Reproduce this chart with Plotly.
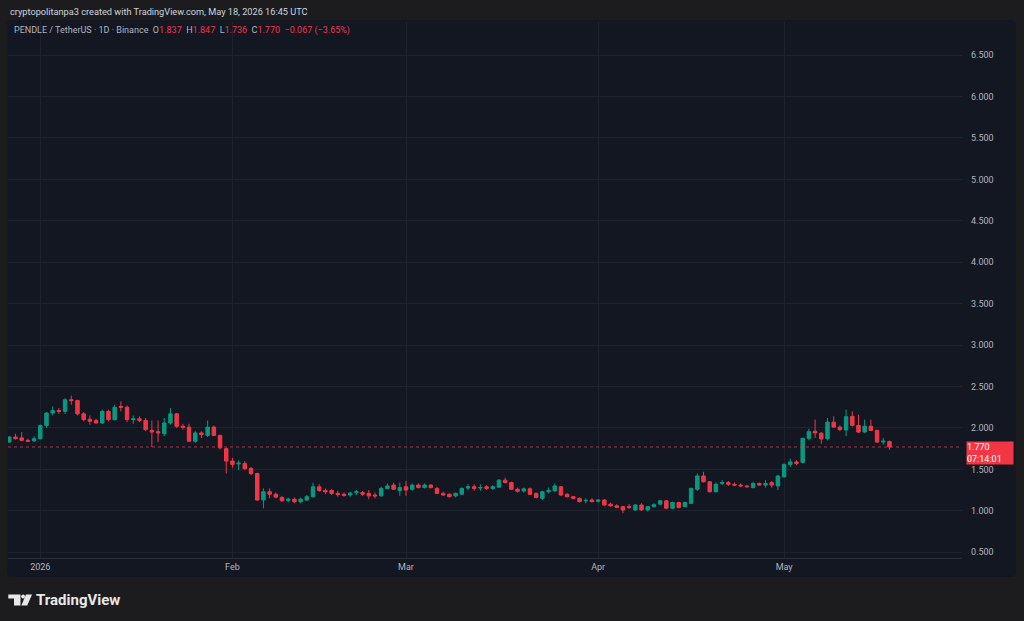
import pandas as pd
import plotly.graph_objects as go

# daily PENDLE/USDT candles, Dec 27 2025 -> May 18 2026
opens = [
    1.83, 1.89, 1.88, 1.85, 1.845,
    1.87, 2.03, 2.18, 2.21, 2.20, 2.34, 2.33, 2.17, 2.105, 2.09, 2.06, 2.20, 2.10, 2.26, 2.25, 2.10,
    2.11, 2.09, 1.97, 1.955, 1.93, 2.06, 2.17, 2.02, 2.01, 1.84, 1.94, 1.91, 2.01, 1.91, 1.75,
    1.60, 1.565, 1.57, 1.51, 1.45, 1.13, 1.23, 1.20, 1.16, 1.125, 1.14, 1.11, 1.13, 1.17,
    1.29, 1.245, 1.245, 1.21, 1.20, 1.19, 1.22, 1.22, 1.21, 1.19, 1.18, 1.27, 1.31, 1.245,
    1.29, 1.26, 1.31, 1.28, 1.31, 1.27, 1.21, 1.20, 1.18, 1.20, 1.275, 1.29, 1.275, 1.29, 1.27,
    1.285, 1.37, 1.34, 1.26, 1.24, 1.265, 1.21, 1.15, 1.23, 1.24, 1.29, 1.20, 1.17, 1.15, 1.12, 1.13,
    1.115, 1.13, 1.08, 1.06, 1.05, 1.05, 1.01, 1.07, 1.01, 1.05, 1.08, 1.12, 1.03, 1.10, 1.05,
    1.09, 1.26, 1.42, 1.35, 1.23, 1.33, 1.34, 1.32, 1.31, 1.30, 1.28, 1.33, 1.31, 1.34, 1.30,
    1.41, 1.56, 1.59, 1.585, 1.875, 1.96, 1.936, 1.87, 2.07, 2.01, 1.975, 2.14, 2.03, 1.95, 2.02,
    1.97, 1.83, 1.837,
]
highs = [
    1.90, 1.93, 1.95, 1.87, 1.90,
    2.04, 2.19, 2.26, 2.24, 2.36, 2.39, 2.34, 2.19, 2.15, 2.11, 2.22, 2.22, 2.28, 2.32, 2.27, 2.15,
    2.14, 2.12, 2.09, 2.09, 2.12, 2.24, 2.18, 2.05, 2.05, 1.96, 1.96, 2.09, 2.03, 1.92, 1.76,
    1.64, 1.61, 1.60, 1.53, 1.46, 1.27, 1.27, 1.22, 1.18, 1.16, 1.16, 1.16, 1.19, 1.34,
    1.32, 1.27, 1.26, 1.24, 1.22, 1.23, 1.25, 1.24, 1.25, 1.22, 1.29, 1.33, 1.34, 1.34,
    1.36, 1.33, 1.33, 1.33, 1.32, 1.29, 1.23, 1.21, 1.22, 1.28, 1.32, 1.32, 1.32, 1.31, 1.31,
    1.38, 1.40, 1.35, 1.28, 1.28, 1.28, 1.22, 1.24, 1.28, 1.33, 1.30, 1.21, 1.18, 1.16, 1.15, 1.15,
    1.14, 1.14, 1.10, 1.08, 1.06, 1.08, 1.08, 1.09, 1.06, 1.09, 1.13, 1.13, 1.11, 1.11, 1.11,
    1.28, 1.45, 1.47, 1.36, 1.34, 1.37, 1.36, 1.34, 1.33, 1.31, 1.35, 1.34, 1.37, 1.36, 1.43,
    1.57, 1.63, 1.61, 1.88, 1.99, 2.10, 1.95, 2.12, 2.14, 2.03, 2.22, 2.20, 2.16, 2.10, 2.10,
    1.98, 1.88, 1.847,
]
lows = [
    1.82, 1.86, 1.84, 1.83, 1.83,
    1.86, 2.00, 2.15, 2.17, 2.17, 2.28, 2.15, 2.08, 2.04, 2.05, 2.05, 2.08, 2.09, 2.20, 2.07, 2.05,
    2.07, 1.96, 1.77, 1.83, 1.90, 2.04, 2.00, 1.98, 1.83, 1.82, 1.88, 1.89, 1.90, 1.74, 1.45,
    1.52, 1.49, 1.49, 1.43, 1.12, 1.03, 1.15, 1.15, 1.11, 1.10, 1.09, 1.09, 1.12, 1.16,
    1.23, 1.20, 1.19, 1.17, 1.17, 1.17, 1.19, 1.18, 1.14, 1.15, 1.17, 1.26, 1.25, 1.18,
    1.18, 1.24, 1.27, 1.27, 1.27, 1.20, 1.18, 1.16, 1.16, 1.19, 1.25, 1.24, 1.24, 1.25, 1.25,
    1.28, 1.33, 1.25, 1.22, 1.22, 1.19, 1.15, 1.13, 1.21, 1.23, 1.18, 1.16, 1.14, 1.10, 1.09, 1.10,
    1.10, 1.06, 1.05, 1.03, 0.97, 1.02, 1.00, 1.00, 0.99, 1.04, 1.07, 1.02, 1.02, 1.03, 1.04,
    1.08, 1.24, 1.34, 1.22, 1.22, 1.31, 1.30, 1.30, 1.29, 1.28, 1.27, 1.30, 1.28, 1.28, 1.25,
    1.40, 1.53, 1.55, 1.57, 1.85, 1.88, 1.81, 1.85, 2.00, 1.96, 1.90, 2.02, 1.94, 1.94, 1.96,
    1.82, 1.80, 1.736,
]
closes = [
    1.89, 1.87, 1.85, 1.84, 1.87,
    2.03, 2.18, 2.21, 2.20, 2.34, 2.33, 2.17, 2.10, 2.08, 2.06, 2.20, 2.10, 2.25, 2.25, 2.10, 2.11,
    2.09, 1.98, 1.95, 1.94, 2.06, 2.17, 2.02, 2.01, 1.84, 1.94, 1.92, 2.01, 1.91, 1.76, 1.60,
    1.56, 1.575, 1.51, 1.45, 1.13, 1.23, 1.20, 1.165, 1.12, 1.14, 1.11, 1.14, 1.17, 1.29,
    1.245, 1.23, 1.21, 1.195, 1.185, 1.215, 1.23, 1.20, 1.18, 1.18, 1.27, 1.30, 1.26, 1.28,
    1.25, 1.31, 1.28, 1.31, 1.28, 1.21, 1.19, 1.17, 1.21, 1.27, 1.29, 1.27, 1.28, 1.27, 1.29,
    1.37, 1.34, 1.26, 1.235, 1.265, 1.20, 1.16, 1.23, 1.245, 1.30, 1.19, 1.17, 1.15, 1.11, 1.125, 1.11,
    1.13, 1.07, 1.06, 1.04, 1.01, 1.04, 1.07, 1.01, 1.05, 1.075, 1.12, 1.03, 1.10, 1.04, 1.10,
    1.27, 1.42, 1.35, 1.23, 1.32, 1.34, 1.32, 1.31, 1.30, 1.29, 1.33, 1.31, 1.33, 1.31, 1.42,
    1.56, 1.59, 1.57, 1.875, 1.955, 1.94, 1.867, 2.07, 2.01, 1.98, 2.136, 2.03, 1.95, 2.02, 1.97,
    1.83, 1.84, 1.770,
]
dates = pd.date_range("2025-12-27", periods=len(closes), freq="D")

month_ticks = ["2026-01-01", "2026-02-01", "2026-03-01", "2026-04-01", "2026-05-01"]
month_labels = ["2026", "Feb", "Mar", "Apr", "May"]
price_ticks = [0.5, 1.0, 1.5, 2.0, 2.5, 3.0, 3.5, 4.0, 4.5, 5.0, 5.5, 6.0, 6.5]

UP = "#089981"
DOWN = "#f23645"
PANE = "#131722"
OUTER = "#1c1c1e"
GRID = "#1e222d"
TXT = "#b2b5be"
FONT = "Roboto"

W, H = 1024, 621
L, R, T, B = 8, 62, 22, 63
pw, ph = W - L - R, H - T - B


def px(x):
    return (x - L) / pw


def py(y):
    return (H - B - y) / ph


fig = go.Figure()
fig.add_trace(go.Candlestick(
    x=dates, open=opens, high=highs, low=lows, close=closes,
    increasing=dict(line=dict(color=UP, width=1), fillcolor=UP),
    decreasing=dict(line=dict(color=DOWN, width=1), fillcolor=DOWN),
    whiskerwidth=0, showlegend=False, hoverinfo="skip",
))

# rounded chart pane
x0, x1, y0, y1, r = px(7), px(1016), py(577), py(20), 5
rx, ry = r / pw, r / ph
pane_path = (
    f"M {x0+rx},{y1} L {x1-rx},{y1} Q {x1},{y1} {x1},{y1-ry} "
    f"L {x1},{y0+ry} Q {x1},{y0} {x1-rx},{y0} L {x0+rx},{y0} "
    f"Q {x0},{y0} {x0},{y0+ry} L {x0},{y1-ry} Q {x0},{y1} {x0+rx},{y1} Z"
)
shapes = [dict(type="path", xref="paper", yref="paper", path=pane_path,
               fillcolor=PANE, line=dict(width=0), layer="below")]

# last price dotted line
shapes.append(dict(type="line", xref="paper", yref="y", x0=0, x1=1,
                   y0=closes[-1], y1=closes[-1], opacity=0.75,
                   line=dict(color=DOWN, width=1, dash="dot"), layer="above"))

# TradingView logo
logo_color = "#e8e8e8"
shapes.append(dict(type="path", xref="paper", yref="paper", fillcolor=logo_color,
                   line=dict(width=0),
                   path=(f"M {px(8.3)},{py(594.5)} L {px(20.5)},{py(594.5)} L {px(20.5)},{py(605.5)} "
                         f"L {px(14)},{py(605.5)} L {px(14)},{py(598.5)} L {px(8.3)},{py(598.5)} Z")))
shapes.append(dict(type="circle", xref="paper", yref="paper", fillcolor=logo_color,
                   line=dict(width=0), x0=px(21.2), x1=px(25.0), y0=py(598.4), y1=py(594.6)))
shapes.append(dict(type="path", xref="paper", yref="paper", fillcolor=logo_color,
                   line=dict(width=0),
                   path=(f"M {px(26)},{py(594.5)} L {px(32)},{py(594.5)} L {px(27.2)},{py(605.5)} "
                         f"L {px(21.3)},{py(605.5)} Z")))

chg = closes[-1] - opens[-1]
pct = chg / opens[-1] * 100


def red(s):
    return f"<span style='color:{DOWN}'>{s}</span>"


legend_line = (
    f"PENDLE / TetherUS · 1D · Binance  O{red(f'{opens[-1]:.3f}')}  H{red(f'{highs[-1]:.3f}')}"
    f"  L{red(f'{lows[-1]:.3f}')}  C{red(f'{closes[-1]:.3f}')}  "
    + red(f"−{abs(chg):.3f} (−{abs(pct):.2f}%)")
)

annotations = [
    dict(text="cryptopolitanpa3 created with TradingView.com, May 18, 2026 16:45 UTC",
         xref="paper", yref="paper", x=px(8), y=py(12), xanchor="left", yanchor="middle",
         showarrow=False, font=dict(family=FONT, size=9.2, color="#d1d4dc")),
    dict(text=legend_line, xref="paper", yref="paper", x=px(12), y=py(31),
         xanchor="left", yanchor="middle", showarrow=False,
         font=dict(family=FONT, size=9, color=TXT)),
    dict(text=f"{closes[-1]:.3f}<br>07:14:01", xref="paper", yref="y", x=px(966), y=closes[-1],
         xanchor="left", yanchor="top", yshift=6, showarrow=False, align="left",
         bgcolor=DOWN, borderpad=0, width=46, height=22,
         font=dict(family=FONT, size=9, color="#ffffff")),
    dict(text="<b>TradingView</b>", xref="paper", yref="paper", x=px(34), y=py(600),
         xanchor="left", yanchor="middle", showarrow=False,
         font=dict(family=FONT, size=15, color=logo_color)),
]

start = dates[0]
fig.update_layout(
    width=W, height=H,
    margin=dict(l=L, r=R, t=T, b=B),
    paper_bgcolor=OUTER, plot_bgcolor=PANE,
    shapes=shapes, annotations=annotations,
    boxgap=0.2,
    xaxis=dict(
        type="date", rangeslider=dict(visible=False),
        range=[start - pd.Timedelta(hours=5), start + pd.Timedelta(days=153.7)],
        tickvals=month_ticks, ticktext=month_labels,
        showgrid=True, gridcolor=GRID, gridwidth=1,
        showline=True, linecolor="#2a2e39", linewidth=1,
        ticks="", tickfont=dict(family=FONT, size=9, color=TXT),
        zeroline=False, fixedrange=True,
    ),
    yaxis=dict(
        side="right", range=[0.43, 6.90],
        tickvals=price_ticks, ticktext=[f"{v:.3f}" for v in price_ticks],
        showgrid=True, gridcolor=GRID, gridwidth=1,
        showline=False, ticks="", ticklabelstandoff=8,
        tickfont=dict(family=FONT, size=9, color=TXT),
        zeroline=False, fixedrange=True,
    ),
    hovermode=False,
)

fig.write_html(
    "out.html",
    config={"displayModeBar": False},
    post_script=(
        "document.body.style.margin='0';"
        f"document.body.style.background='{OUTER}';"
        "document.body.style.overflow='hidden';"
    ),
)
